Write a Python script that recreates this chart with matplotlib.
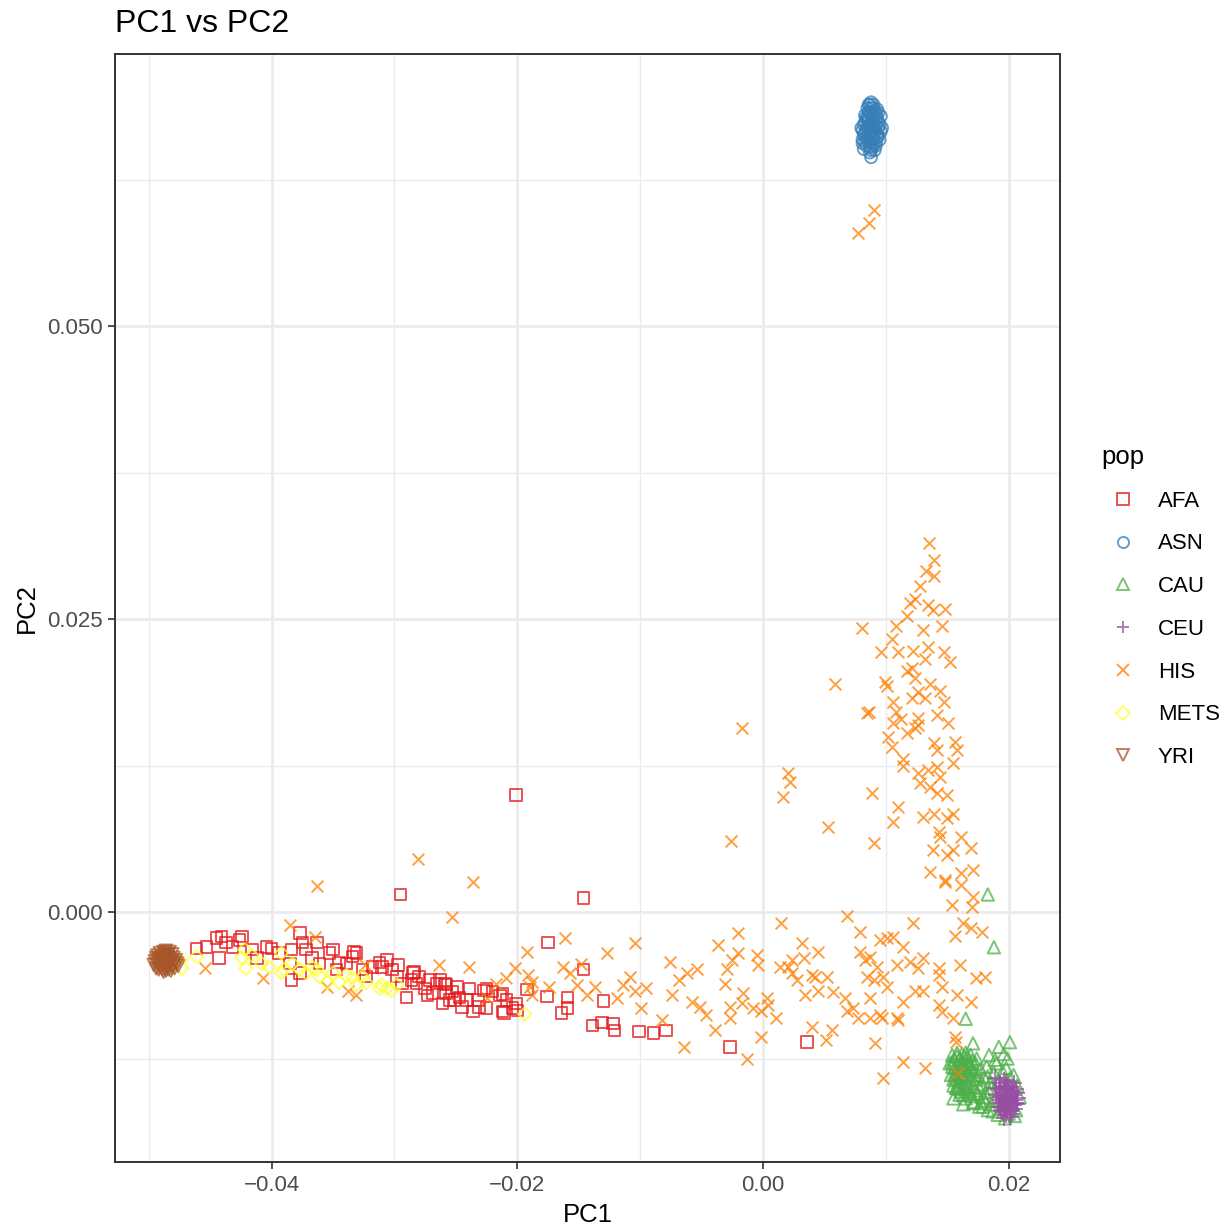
import matplotlib
matplotlib.use("Agg")
import matplotlib.pyplot as plt
from matplotlib.lines import Line2D
import numpy as np

plt.rcParams['font.family'] = ['Liberation Sans', 'DejaVu Sans']

# PC values, in units of 1e-3
afa_pc1 = [-20.1, -29.5, -14.6, -17.5, -14.6, -15.9, -15.9, -16.4, -17.6, -19.2, -20.1, -20.4, -21.1, -21.2,
           -13.0, -13.9, -13.1, -12.2, -12.1, -10.1, -8.9, -7.9, -2.7, 3.6,
           -46.1, -45.3, -44.5, -44.1, -43.7, -44.3, -43.2, -42.6, -42.4, -41.6, -41.2, -40.4, -40.0, -39.4,
           -38.4, -37.7, -37.5, -37.2, -36.7, -36.1, -35.0, -34.5, -33.9, -33.1, -32.6, -31.2, -31.0, -30.2,
           -29.8, -28.5, -28.2, -27.5, -26.9, -26.3, -25.8, -25.3, -24.7, -24.1, -23.6, -23.2, -22.7, -22.5,
           -21.4, -24.5, -26.1, -24.9, -27.1, -28.6, -38.5, -38.4, -37.7, -36.3, -35.3, -34.7, -33.4, -32.3,
           -31.8, -30.6, -29.4, -28.0, -26.6, -25.5, -23.9, -22.0, -20.9, -20.0, -33.3, -29.7, -28.4, -29.0,
           -27.3, -25.9, -25.8, -25.1, -23.1, -22.5, -21.2]
afa_pc2 = [10.0, 1.5, 1.2, -2.6, -4.9, -7.3, -8.2, -8.6, -7.2, -6.6, -7.8, -8.2, -8.6, -7.0,
           -7.6, -9.7, -9.4, -9.5, -10.1, -10.2, -10.3, -10.1, -11.5, -11.1,
           -3.1, -3.0, -2.2, -2.1, -2.6, -3.9, -3.0, -2.4, -2.1, -3.2, -3.9, -3.0, -3.1, -3.5,
           -3.2, -1.8, -2.6, -3.2, -3.9, -4.4, -3.2, -4.3, -4.4, -3.5, -4.9, -4.3, -4.7, -4.9,
           -5.5, -5.2, -6.1, -6.5, -6.9, -5.8, -6.2, -6.8, -7.3, -7.5, -8.5, -7.5, -6.7, -8.2,
           -7.1, -8.1, -7.8, -6.4, -5.8, -5.8, -4.4, -5.8, -5.2, -2.6, -3.5, -4.9, -3.8, -5.5,
           -4.7, -4.1, -6.1, -5.5, -6.1, -7.5, -6.5, -6.8, -7.5, -8.4, -3.4, -4.5, -5.1, -7.3,
           -7.1, -6.1, -6.9, -7.5, -8.1, -6.5, -8.5]

asn_pc1 = [8.8, 9.0, 8.6, 9.2, 8.4, 8.9, 9.4, 8.2, 8.7, 9.1, 9.6, 8.3, 8.8, 9.3, 8.1, 8.6, 9.0, 9.5,
           8.5, 9.0, 8.9, 8.5, 9.3, 8.4, 8.7, 8.8, 8.2, 9.1, 8.9, 9.2, 8.6, 9.4, 8.3, 8.7, 9.6, 8.1,
           8.8, 8.9, 8.1,
           8.7, 9.1, 8.5, 8.8, 9.2, 8.4, 8.9, 9.3, 8.6, 9.0, 8.5, 9.2, 8.8, 8.7, 9.0, 8.6, 9.4, 8.3,
           9.5, 8.2, 9.4, 8.9, 8.4, 9.1, 8.6, 9.0, 8.8, 9.3, 8.5, 9.7, 8.0, 8.7, 9.2, 8.3, 9.0]
asn_pc2 = [68.6, 68.9, 68.3, 68.1, 67.8, 67.6, 67.4, 67.2, 67.0, 66.8, 66.6, 66.5, 66.3, 66.1, 65.9, 65.7,
           65.5, 65.9, 66.9, 67.2, 68.1, 68.6, 68.5, 65.4, 64.8, 65.0, 65.1, 65.0, 66.0, 67.8, 67.5, 66.9,
           68.0, 68.9, 67.9, 66.7, 64.4, 65.2, 65.6,
           68.2, 68.4, 67.6, 67.3, 67.1, 66.8, 66.6, 66.4, 66.2, 66.0, 65.9, 65.7, 65.6, 66.8, 67.9, 68.9,
           68.2, 67.4, 67.2, 66.3, 66.2, 65.9, 66.1, 66.5, 67.1, 68.6, 69.1, 67.7, 67.9, 66.9, 66.9, 65.3,
           65.4, 65.7, 66.9]

cau_pc1 = [15.4, 15.8, 16.2, 16.6, 17.0, 15.6, 16.0, 16.4, 16.8, 17.2, 15.3, 15.7, 16.1, 16.5, 16.9, 17.4,
           15.5, 15.9, 16.3, 16.7, 17.1, 17.6, 16.0, 16.5, 17.0, 17.5, 17.9, 16.3, 16.7, 15.9, 17.7, 18.0,
           18.2, 18.5, 18.8, 18.4, 18.9, 19.2, 19.5, 19.0, 18.6, 19.3, 20.0, 20.6, 20.9, 20.7, 20.4, 20.1,
           19.8, 20.5, 19.7, 17.8, 18.3, 16.5,
           18.3, 18.8, 16.5, 17.1, 20.1, 19.2, 19.9, 18.4, 15.2, 15.6, 15.8, 15.5, 16.3, 17.1, 17.9,
           15.6, 16.0, 16.4, 16.8, 15.4, 15.8, 16.2, 16.6, 17.0, 15.5, 15.9, 16.3, 16.7, 17.1, 15.7, 16.1,
           16.5, 16.9, 17.3, 15.4, 16.2, 16.9, 17.3, 17.5, 17.8, 18.1, 18.6, 18.3, 17.2, 17.6, 18.1, 18.7,
           19.1, 15.8, 16.6, 16.0, 16.4, 17.4, 18.9, 19.6]
cau_pc2 = [-12.8, -12.3, -12.1, -12.4, -12.7, -13.3, -13.0, -13.5, -13.2, -13.6, -13.9, -14.2, -13.8, -14.4,
           -14.0, -14.3, -14.8, -15.1, -14.9, -15.3, -14.9, -15.0, -15.6, -15.9, -15.7, -15.5, -15.8, -12.8,
           -13.8, -14.0, -13.4, -14.1, -13.2, -14.6, -13.7, -15.3, -15.9, -14.4, -13.6, -12.9, -16.4, -16.8,
           -17.2, -16.9, -15.8, -14.8, -13.9, -14.2, -13.3, -17.4, -17.6, -16.3, -16.9, -12.0,
           1.5, -3.0, -9.1, -11.2, -11.1, -11.5, -12.5, -12.2, -12.9, -13.8, -14.9, -15.9, -16.4, -16.3, -16.6,
           -12.6, -12.5, -12.3, -12.9, -13.2, -13.6, -13.3, -13.0, -13.4, -14.3, -14.5, -14.1, -14.6, -14.2,
           -15.0, -15.3, -15.1, -15.5, -15.2, -12.2, -12.6, -12.2, -12.9, -13.9, -14.7, -15.4, -15.0, -14.0,
           -16.2, -16.6, -16.1, -17.0, -17.3, -12.0, -13.9, -14.7, -15.6, -12.5, -12.6, -12.1]

ceu_pc1 = [19.8, 19.5, 20.1, 19.3, 20.4, 19.7, 20.0, 19.2, 20.6, 19.9, 19.4, 20.3, 19.6, 20.7, 19.0, 20.2,
           19.5, 19.8, 20.5, 19.1, 19.9, 20.1, 19.6, 20.3, 19.7, 20.0, 19.3, 18.9, 19.6, 20.8,
           19.9, 20.2, 19.5, 20.5, 19.7, 20.0, 19.4, 20.3, 19.8, 20.6, 19.2, 20.1, 19.6, 19.9, 20.4, 19.3,
           20.0, 19.7, 20.2, 19.5, 19.8, 20.7, 19.0, 20.3, 19.4, 19.9, 20.1, 19.6, 20.4, 19.8]
ceu_pc2 = [-15.8, -15.4, -16.1, -16.0, -15.6, -16.5, -15.2, -15.1, -16.3, -16.8, -16.6, -14.9, -14.8, -15.4,
           -15.6, -17.0, -17.1, -14.5, -16.8, -16.3, -15.5, -15.9, -16.1, -16.4, -15.1, -16.6, -14.6, -14.2,
           -17.6, -15.9,
           -16.2, -15.5, -15.9, -16.0, -16.9, -14.9, -15.3, -17.2, -16.4, -15.1, -16.6, -16.6, -15.6, -14.8,
           -16.5, -15.8, -15.7, -15.4, -16.9, -16.3, -17.3, -16.4, -15.0, -15.3, -17.0, -15.2, -17.5, -14.3,
           -14.6, -16.0]

his_pc1 = [7.7, 8.6, 9.0,
           13.5, 13.9, 13.3, 13.9, 12.8, 12.4, 12.0, 13.4, 13.8, 14.8, 11.7, 8.1, 10.8, 13.0, 14.6, 10.5,
           9.6, 11.0, 12.2, 13.4, 13.2, 14.7, 15.2, 11.7, 12.1, 12.4, 5.9, 9.9, 10.1, 13.6, 14.4, 12.6,
           12.1, 13.2, 14.7, 10.6, 8.6, 8.5, 10.8, 11.2, 12.6, 14.2, 10.6, 12.6, 15.1, 11.7, 12.4, 10.2,
           10.5, 13.9, 14.2, 15.6, 15.8, 11.4, 11.4, 12.6, 13.4, 14.2, 15.5, 12.8, 13.6, 14.4, 8.9, 11.0,
           14.2, 15.0, 10.6, 5.3, 13.0, 13.9, 15.0, 15.5, 14.3, 14.4, 9.0, 16.1, 13.8, 15.0, 15.5, 16.9,
           13.6, 14.8, 16.1, 17.1, 16.1, 15.4, 17.1, 17.0, 6.8,
           2.0, 2.2, 1.6, -1.7, -2.6,
           -16.1, -19.2, -20.2, -20.9, -19.1, -18.8, -16.3, -15.7, -14.8, -12.7, -10.4, -17.4, -15.1, -13.7,
           -14.3, -11.9, -11.4, -10.8, -10.4, -9.5, -9.9, -8.2, -6.4, -7.6, -7.4, -6.8, -6.2, -5.4, -5.8,
           -5.1, -4.6, -3.9, -3.7, -2.9, -3.1, -2.5, -2.0, -2.0, -2.7, -2.7, -1.6, -1.7, -0.8, -1.3, -0.5,
           -0.4, -0.2, -0.2, 0.3, 0.4, 1.1, 1.5, 1.4, 2.0, 2.4, 2.4, 3.2, 3.3, 2.8, 3.4, 4.0, 4.5, 4.2,
           5.2, 4.5, 5.7, 6.7, 7.9, 7.9, 8.3, 8.7, 9.3, 9.5, 10.1, 10.6, 8.5, 9.0, 9.8, 10.1, 8.7, 6.8,
           7.3, 7.7, 8.7, 9.5, 4.0, 5.6, 5.1, 9.1, 10.9, 9.8,
           12.2, 11.4, 10.9, 12.0, 13.0, 14.3, 14.3, 12.6, 16.0, 17.3, 18.1, 14.6, 13.0, 12.4, 11.4, 14.3,
           15.8, 16.9, 14.6, 15.5, 11.0, 9.7, 15.6, 15.7, 11.4, 13.2, 15.9, 15.6, 16.3, 16.9, 17.8, 14.8,
           -38.5, -36.5, -45.4, -40.7, -35.5, -33.8, -33.1, -32.4, -26.4, -23.9, -25.3, -21.7, -19.0, -18.8,
           -22.5, -36.3, -28.1, -23.6]
his_pc2 = [57.9, 58.8, 59.9,
           31.5, 30.0, 29.1, 28.7, 27.8, 26.7, 26.4, 26.2, 25.8, 25.9, 25.3, 24.2, 24.4, 24.1, 24.4, 23.3,
           22.2, 22.2, 22.3, 22.6, 21.6, 22.2, 21.3, 20.6, 20.8, 20.0, 19.5, 19.6, 19.3, 19.5, 18.9, 18.8,
           18.3, 18.3, 17.9, 17.9, 17.1, 17.0, 17.1, 16.5, 16.6, 16.8, 16.1, 16.0, 16.1, 15.3, 15.7, 14.9,
           14.1, 14.4, 13.8, 14.5, 13.8, 13.1, 12.5, 11.9, 12.1, 12.4, 12.7, 11.0, 10.7, 11.5, 10.2, 9.0,
           10.2, 10.0, 7.7, 7.3, 8.1, 8.4, 8.0, 8.4, 6.8, 6.4, 5.9, 6.4, 5.3, 4.9, 5.3, 5.5,
           3.4, 2.7, 3.3, 3.6, 2.3, 0.6, 1.3, 0.4, -0.3,
           11.9, 11.1, 9.8, 15.7, 6.1,
           -2.2, -3.4, -4.8, -5.6, -5.4, -6.0, -4.7, -5.2, -4.4, -3.5, -2.6, -6.4, -6.2, -6.4,
           -7.1, -7.3, -6.2, -5.5, -6.7, -6.5, -8.2, -9.2, -11.5, -4.3, -7.1, -5.8, -5.2, -4.9, -7.7,
           -8.1, -8.8, -10.1, -2.8, -4.9, -6.1, -4.1, -1.8, -3.5, -8.1, -9.0, -6.9, -7.8, -8.2, -12.5, -3.7,
           -4.5, -8.4, -10.7, -7.3, -7.9, -9.0, -0.9, -4.7, -4.7, -4.1, -5.2, -2.6, -3.9, -5.8, -7.1, -5.4, -3.4, -5.5,
           -5.5, -6.7, -6.8, -7.3, -1.7, -3.4, -4.1, -3.8, -4.7, -2.4, -2.2, -2.1, -5.5, -5.8, -5.5, -6.4, -7.3, -8.4,
           -8.2, -9.0, -9.0, -8.8, -9.8, -10.1, -10.9, -11.2, -9.0, -14.2,
           -0.9, -3.0, -4.5, -4.3, -3.9, -4.8, -5.4, -4.8, -4.5, -5.6, -5.5, -6.4, -6.7, -6.7, -7.7, -7.9,
           -7.1, -7.7, -8.5, -9.0, -9.2, -9.0, -10.7, -11.1, -12.8, -13.3, -13.7, -2.0, -0.9, -1.4, -1.7, 2.6,
           -1.1, -2.1, -4.8, -5.6, -6.4, -6.7, -7.1, -4.5, -4.5, -4.7, -0.4, -6.1, -6.4, -7.1,
           -7.3, 2.2, 4.5, 2.6]

mets_pc1 = [-47.3, -46.1, -42.2, -42.1, -42.4, -40.8, -40.2, -39.2, -39.2, -38.3, -37.7, -37.2, -36.7,
            -36.1, -35.0, -34.5, -33.9, -33.4, -33.1, -32.3, -31.2, -30.6, -30.2, -29.8, -19.4, -47.4,
            -39.0, -36.3, -35.5, -32.6, -31.1, -41.6]
mets_pc2 = [-4.8, -3.8, -3.2, -4.8, -3.9, -4.4, -4.7, -3.5, -5.2, -4.4, -4.9, -5.2, -4.7,
            -5.5, -5.2, -6.0, -5.4, -5.6, -6.2, -6.0, -6.5, -6.5, -6.7, -6.2, -8.7, -4.1,
            -4.9, -4.9, -6.0, -5.5, -6.2, -3.7]

yri_pc1 = [-48.7, -48.9, -48.5, -49.2, -48.2, -48.8, -48.6, -49.0, -48.4, -48.9, -49.3, -48.1, -48.6,
           -49.1, -48.3, -47.9, -49.4, -48.7, -48.5, -48.8, -47.9, -47.6,
           -48.9, -48.3, -49.5, -48.0, -49.1, -48.4, -48.8, -49.0, -48.6, -48.2, -49.2, -47.8, -48.5,
           -48.9, -48.7, -49.6, -48.1, -48.4, -49.3, -48.6, -48.0, -48.8, -49.4, -47.7, -48.5, -48.3,
           -49.1, -48.7]
yri_pc2 = [-4.1, -3.8, -4.4, -4.0, -4.2, -4.6, -3.6, -4.3, -3.9, -4.9, -4.4, -4.7, -5.0,
           -3.5, -3.4, -4.3, -3.9, -4.8, -4.0, -4.2, -4.8, -4.6,
           -4.5, -4.5, -4.2, -3.9, -4.7, -3.6, -3.4, -3.9, -4.2, -5.0, -4.9, -4.1, -4.7,
           -4.0, -3.7, -4.5, -3.6, -4.9, -3.7, -3.3, -4.5, -5.1, -4.8, -4.4, -3.8, -4.1,
           -4.1, -4.4]

pops = ["AFA", "ASN", "CAU", "CEU", "HIS", "METS", "YRI"]
colors = {"AFA": "#E41A1C", "ASN": "#377EB8", "CAU": "#4DAF4A", "CEU": "#984EA3",
          "HIS": "#FF7F00", "METS": "#FFFF33", "YRI": "#A65628"}
markers = {"AFA": "s", "ASN": "o", "CAU": "^", "CEU": "+", "HIS": "x", "METS": "D", "YRI": "v"}
sizes = {"AFA": 68, "ASN": 72, "CAU": 80, "CEU": 120, "HIS": 72, "METS": 46, "YRI": 80}
data = {"AFA": (afa_pc1, afa_pc2), "ASN": (asn_pc1, asn_pc2), "CAU": (cau_pc1, cau_pc2),
        "CEU": (ceu_pc1, ceu_pc2), "HIS": (his_pc1, his_pc2), "METS": (mets_pc1, mets_pc2),
        "YRI": (yri_pc1, yri_pc2)}
draw_order = ["AFA", "ASN", "CAU", "HIS", "CEU", "METS", "YRI"]

fig = plt.figure(figsize=(12.3, 12.28), dpi=100)
ax = fig.add_axes([0.0935, 0.0537, 0.7683, 0.9023])

for p in draw_order:
    x = np.array(data[p][0]) * 1e-3
    y = np.array(data[p][1]) * 1e-3
    if markers[p] in ("+", "x"):
        ax.scatter(x, y, marker=markers[p], s=sizes[p], c=colors[p], linewidths=1.4, alpha=0.75, zorder=3)
    else:
        ax.scatter(x, y, marker=markers[p], s=sizes[p], facecolors="none", edgecolors=colors[p],
                   linewidths=1.4, alpha=0.75, zorder=3)

ax.set_xlim(-0.05275, 0.02418)
ax.set_ylim(-0.02133, 0.07321)
ax.set_xticks([-0.04, -0.02, 0.00, 0.02])
ax.set_xticklabels(["\u22120.04", "\u22120.02", "0.00", "0.02"])
ax.set_yticks([0.0, 0.025, 0.05])
ax.set_yticklabels(["0.000", "0.025", "0.050"])
ax.set_xticks([-0.05, -0.03, -0.01, 0.01], minor=True)
ax.set_yticks([-0.0125, 0.0125, 0.0375, 0.0625], minor=True)
ax.grid(which="major", color="#EBEBEB", linewidth=2.0, zorder=0)
ax.grid(which="minor", color="#EBEBEB", linewidth=1.0, zorder=0)
ax.set_axisbelow(True)
ax.tick_params(which="major", length=5, width=1.2, color="#333333", labelsize=16,
               labelcolor="#4D4D4D", pad=4)
ax.tick_params(which="minor", length=0)
for s in ax.spines.values():
    s.set_color("#333333")
    s.set_linewidth(1.4)

ax.set_xlabel("PC1", fontsize=18.5, labelpad=5)
ax.set_ylabel("PC2", fontsize=18.5, labelpad=6)
ax.set_title("PC1 vs PC2", fontsize=23, loc="left", pad=16)

handles = []
for p in pops:
    if markers[p] in ("+", "x"):
        h = Line2D([], [], linestyle="none", marker=markers[p], markersize=9, color=colors[p],
                   markeredgewidth=1.4, alpha=0.75)
    else:
        h = Line2D([], [], linestyle="none", marker=markers[p], markersize=8 if markers[p] != "D" else 7,
                   markerfacecolor="none", markeredgecolor=colors[p], markeredgewidth=1.4, alpha=0.75)
    handles.append(h)
leg = fig.legend(handles, pops, title="pop", loc="upper left", bbox_to_anchor=(0.888, 0.645),
                 frameon=False, fontsize=16, title_fontsize=18.5, labelspacing=0.98,
                 handletextpad=0.55, borderaxespad=0)
leg._legend_box.align = "left"

fig.savefig("out.png", dpi=100)
